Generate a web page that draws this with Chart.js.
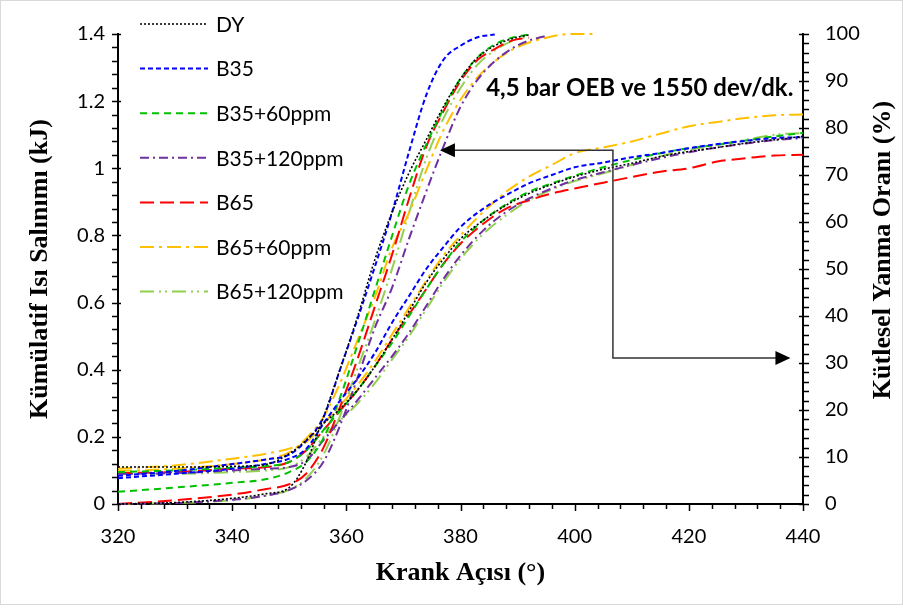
<!DOCTYPE html>
<html>
<head>
<meta charset="utf-8">
<script src="https://cdn.jsdelivr.net/npm/chart.js@4.4.1/dist/chart.umd.min.js"></script>
<style>
html, body { margin: 0; padding: 0; background: #fff; }
#wrap { position: relative; width: 903px; height: 608px; }
#frame { position: absolute; left: 0; top: 0; width: 903px; height: 605px; box-sizing: border-box; border: 1px solid #d9d9d9; pointer-events: none; }
</style>
</head>
<body>
<div id="wrap"><canvas id="chart" width="903" height="608"></canvas><div id="frame"></div></div>
<script>
// seriler
const seriesNames = ['DY', 'B35', 'B35+60ppm', 'B35+120ppm', 'B65', 'B65+60ppm', 'B65+120ppm'];

// kütlesel yanma oranı (%) - sağ eksen
const mfbAngle = [320, 330, 340, 346, 350, 353, 356, 359, 362, 365, 368, 371, 374, 377, 380, 383, 386, 389, 392, 395, 398, 401, 404];
const mfbDY     = [0, 0.3, 1.2, 2.2, 3.5, 9, 18.5, 29, 40, 52, 62, 70.5, 77.5, 84.5, 90.5, 95, 97.5, 99, 99.8, null, null, null, null];
const mfbB35    = [6, 7, 8.5, 9.5, 10.5, 13.5, 18.5, 29, 39.5, 50.5, 62, 75, 87, 94.5, 97.5, 99.3, 99.9, null, null, null, null, null, null];
const mfbB35_60 = [2.6, 3.5, 4.5, 5.3, 6.8, 9, 14, 23, 34, 45.5, 57, 68, 76.5, 84, 90.5, 95, 97.8, 99.2, 99.9, null, null, null, null];
const mfbB35_120 = [0, 0.2, 0.9, 1.8, 3, 5, 9, 17, 27, 37.5, 46, 56.5, 66.5, 76, 84.5, 90.3, 94.2, 96.9, 98.6, 99.6, null, null, null];
const mfbB65    = [0, 0.8, 2, 3.2, 4.2, 6.5, 12, 21, 31, 42, 53, 65, 76, 83.5, 90, 94.5, 96.8, 98.6, 99.2, null, null, null, null];
const mfbB65_60 = [7, 7.5, 8.5, 9.5, 11, 14, 18.5, 26, 35, 44, 54.5, 62, 71, 79.5, 86, 90.8, 94.2, 96.6, 98.2, 99.2, 99.9, 100, 100];
const mfbB65_120 = [0, 0.2, 0.8, 1.8, 3, 5.5, 10.5, 19, 29, 39, 50, 62, 73.5, 82, 88.5, 93.5, 96.5, 98.5, 99.5, null, null, null, null];

// kümülatif ısı salınımı (kJ) - sol eksen
const hrAngle = [320, 330, 340, 346, 350, 353, 356, 359, 362, 365, 368, 371, 374, 377, 380, 384, 388, 392, 396, 400, 405, 410, 415, 420, 425, 430, 435, 440];
const hrDY      = [0.11, 0.11, 0.112, 0.118, 0.15, 0.19, 0.24, 0.285, 0.34, 0.41, 0.49, 0.575, 0.66, 0.73, 0.79, 0.845, 0.89, 0.925, 0.952, 0.975, 0.997, 1.015, 1.035, 1.05, 1.062, 1.075, 1.085, 1.095];
const hrB35     = [0.077, 0.09, 0.105, 0.12, 0.135, 0.165, 0.24, 0.31, 0.375, 0.45, 0.54, 0.62, 0.7, 0.765, 0.825, 0.88, 0.92, 0.955, 0.98, 1.003, 1.017, 1.033, 1.045, 1.06, 1.072, 1.082, 1.09, 1.093];
const hrB35_60  = [0.095, 0.1, 0.108, 0.113, 0.125, 0.16, 0.22, 0.28, 0.34, 0.41, 0.48, 0.56, 0.64, 0.715, 0.78, 0.845, 0.893, 0.93, 0.955, 0.978, 1.003, 1.025, 1.045, 1.06, 1.07, 1.083, 1.095, 1.105];
const hrB35_120 = [0.09, 0.092, 0.1, 0.105, 0.11, 0.13, 0.19, 0.25, 0.31, 0.375, 0.44, 0.51, 0.59, 0.67, 0.74, 0.815, 0.87, 0.91, 0.94, 0.965, 0.988, 1.01, 1.03, 1.048, 1.062, 1.074, 1.084, 1.09];
const hrB65     = [0.092, 0.095, 0.105, 0.11, 0.125, 0.16, 0.22, 0.28, 0.34, 0.41, 0.49, 0.565, 0.64, 0.715, 0.775, 0.835, 0.88, 0.905, 0.925, 0.94, 0.957, 0.974, 0.99, 1.0, 1.02, 1.03, 1.038, 1.04];
const hrB65_60  = [0.105, 0.115, 0.135, 0.15, 0.165, 0.185, 0.24, 0.295, 0.355, 0.425, 0.505, 0.585, 0.665, 0.74, 0.8, 0.87, 0.93, 0.975, 1.01, 1.045, 1.062, 1.08, 1.103, 1.125, 1.138, 1.15, 1.158, 1.16];
const hrB65_120 = [0.09, 0.09, 0.095, 0.1, 0.11, 0.14, 0.2, 0.25, 0.3, 0.36, 0.43, 0.5, 0.58, 0.66, 0.73, 0.805, 0.86, 0.905, 0.937, 0.962, 0.985, 1.01, 1.035, 1.055, 1.07, 1.085, 1.1, 1.105];

const mfbValues = [mfbDY, mfbB35, mfbB35_60, mfbB35_120, mfbB65, mfbB65_60, mfbB65_120];
const hrValues = [hrDY, hrB35, hrB35_60, hrB35_120, hrB65, hrB65_60, hrB65_120];

// eksen etiketleri
const xTitle = 'Krank Açısı (°)';
const yLeftTitle = 'Kümülatif Isı Salınımı (kJ)';
const yRightTitle = 'Kütlesel Yanma Oranı (%)';
const noteText = '4,5 bar OEB ve 1550 dev/dk.';

// çizgi stilleri
const colors = ['#000000', '#0000FF', '#00C000', '#7030A0', '#FF0000', '#FFC000', '#92D050'];
const dashes = [[2, 2], [5, 3], [7, 5], [9, 4, 2, 4], [14, 6], [14, 5, 3, 5], [14, 5, 2, 4, 2, 5]];
const widths = [1.6, 2, 2, 2, 2, 2, 2];

const tickFont = { family: 'Lato', size: 20 };
const titleFont = { family: 'Liberation Serif', size: 26, weight: 'bold' };

function toPoints(xs, ys) {
    const pts = [];
    for (let i = 0; i < xs.length; i++) {
        if (ys[i] !== null) pts.push({ x: xs[i], y: ys[i] });
    }
    return pts;
}

const datasets = [];
seriesNames.forEach((name, i) => {
    const style = {
        borderColor: colors[i], borderDash: dashes[i], borderWidth: widths[i],
        pointRadius: 0, fill: false, cubicInterpolationMode: 'monotone', clip: 4
    };
    datasets.push(Object.assign({ label: name, data: toPoints(hrAngle, hrValues[i]), yAxisID: 'y' }, style));
    datasets.push(Object.assign({ label: name + ' %', data: toPoints(mfbAngle, mfbValues[i]), yAxisID: 'y1' }, style));
});

// ara çentikler, lejant, not ve oklar
const overlay = {
    id: 'overlay',
    afterDraw(chart) {
        const ctx = chart.ctx;
        const xs = chart.scales.x, yl = chart.scales.y, yr = chart.scales.y1;
        const area = chart.chartArea;
        ctx.save();
        ctx.strokeStyle = '#000';
        ctx.lineWidth = 1.5;
        ctx.setLineDash([]);
        ctx.beginPath();
        for (let i = 0; i <= 30; i++) {
            const px = Math.round(xs.getPixelForValue(320 + i * 4)) + 0.5;
            ctx.moveTo(px, area.bottom);
            ctx.lineTo(px, area.bottom + (i % 5 === 0 ? 7 : 5));
        }
        for (let i = 0; i <= 35; i++) {
            const py = Math.round(yl.getPixelForValue(i * 0.04)) + 0.5;
            ctx.moveTo(area.left - 6, py);
            ctx.lineTo(area.left + (i % 5 === 0 ? 3 : 0), py);
        }
        for (let i = 0; i <= 50; i++) {
            const py = Math.round(yr.getPixelForValue(i * 2)) + 0.5;
            ctx.moveTo(area.right - (i % 5 === 0 ? 4 : 0), py);
            ctx.lineTo(area.right + 6, py);
        }
        ctx.stroke();

        // lejant
        ctx.font = '21px Lato';
        ctx.textBaseline = 'middle';
        ctx.textAlign = 'left';
        seriesNames.forEach((name, i) => {
            const y = 24 + i * 44.6;
            ctx.beginPath();
            ctx.strokeStyle = colors[i];
            ctx.lineWidth = widths[i];
            ctx.setLineDash(dashes[i]);
            ctx.moveTo(140, y);
            ctx.lineTo(208, y);
            ctx.stroke();
            ctx.fillStyle = '#000';
            ctx.fillText(name, 216, y + 1);
        });
        ctx.setLineDash([]);

        // not
        ctx.font = 'bold 24px Lato';
        ctx.fillStyle = '#000';
        ctx.fillText(noteText, xs.getPixelForValue(384.5), yl.getPixelForValue(1.237));

        // oklar
        const cx = xs.getPixelForValue(406.7);
        const ty = yl.getPixelForValue(1.054);
        const by = yl.getPixelForValue(0.435);
        const lx = xs.getPixelForValue(376.4);
        const rx = xs.getPixelForValue(437.8);
        ctx.strokeStyle = '#333';
        ctx.lineWidth = 1.5;
        ctx.beginPath();
        ctx.moveTo(lx + 12, ty);
        ctx.lineTo(cx, ty);
        ctx.lineTo(cx, by);
        ctx.lineTo(rx - 12, by);
        ctx.stroke();
        ctx.fillStyle = '#000';
        ctx.beginPath();
        ctx.moveTo(lx, ty); ctx.lineTo(lx + 15, ty - 7); ctx.lineTo(lx + 15, ty + 7); ctx.closePath();
        ctx.fill();
        ctx.beginPath();
        ctx.moveTo(rx, by); ctx.lineTo(rx - 15, by - 7); ctx.lineTo(rx - 15, by + 7); ctx.closePath();
        ctx.fill();

        // sağ eksen başlığı
        ctx.save();
        ctx.translate(883, 250);
        ctx.rotate(-Math.PI / 2);
        ctx.font = 'bold 26px "Liberation Serif"';
        ctx.textAlign = 'center';
        ctx.textBaseline = 'middle';
        ctx.fillText(yRightTitle, 0, 0);
        ctx.restore();

        ctx.restore();
    }
};

new Chart(document.getElementById('chart'), {
    type: 'line',
    data: { datasets: datasets },
    plugins: [overlay],
    options: {
        responsive: false,
        animation: false,
        layout: { padding: { top: 31, left: 0, right: 0, bottom: 0 } },
        plugins: { legend: { display: false }, tooltip: { enabled: false } },
        scales: {
            x: {
                type: 'linear', position: 'bottom', min: 320, max: 440,
                afterFit: (s) => { s.height = 104; },
                ticks: { stepSize: 20, font: tickFont, color: '#000', padding: 21, maxRotation: 0 },
                grid: { display: false, drawTicks: false },
                border: { display: true, color: '#000', width: 2 },
                title: { display: true, text: xTitle, font: titleFont, color: '#000', padding: { bottom: 19 } }
            },
            y: {
                type: 'linear', position: 'left', min: 0, max: 1.4,
                afterFit: (s) => { s.width = 118; },
                ticks: { stepSize: 0.2, font: tickFont, color: '#000', padding: 13,
                         callback: (v) => String(Number(v.toFixed(1))) },
                grid: { display: false, drawTicks: false },
                border: { display: true, color: '#000', width: 2 },
                title: { display: true, text: yLeftTitle, font: titleFont, color: '#000', padding: { top: 25 } }
            },
            y1: {
                type: 'linear', position: 'right', min: 0, max: 100,
                afterFit: (s) => { s.width = 100; },
                ticks: { stepSize: 10, font: tickFont, color: '#000', padding: 22 },
                grid: { display: false, drawTicks: false },
                border: { display: true, color: '#000', width: 2 }
            }
        }
    }
});
</script>
</body>
</html>
